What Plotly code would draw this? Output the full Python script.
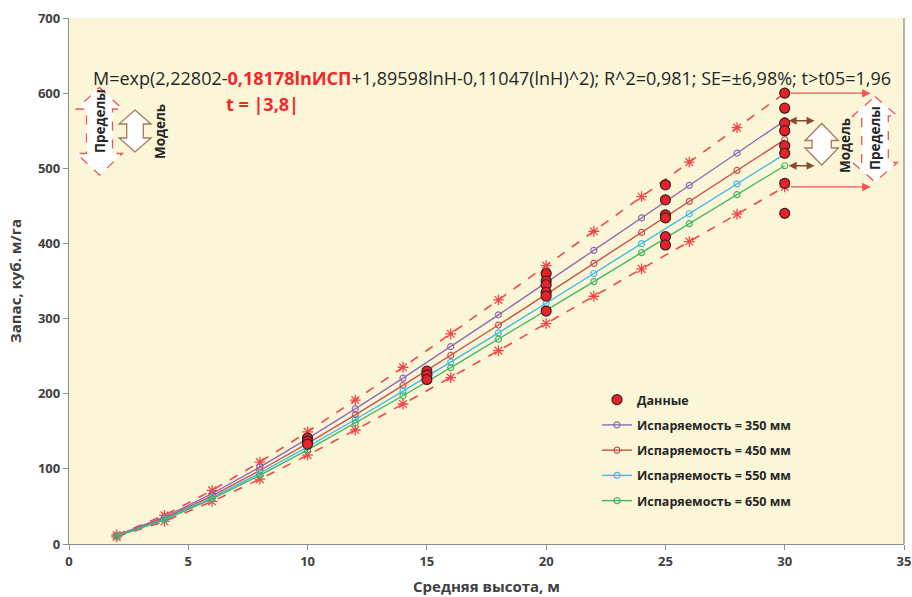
import plotly.graph_objects as go

# ---------------- data ----------------
heights = [2, 4, 6, 8, 10, 12, 14, 16, 18, 20, 22, 24, 26, 28, 30]

model_350 = [11.3, 35.9, 67.1, 102.3, 140.2, 179.9, 220.8, 262.6, 305.0, 347.8, 390.8, 434.0, 477.2, 520.3, 563.3]
model_450 = [10.8, 34.3, 64.1, 97.8, 134.0, 171.9, 211.0, 250.9, 291.4, 332.3, 373.4, 414.6, 455.9, 497.1, 538.2]
model_550 = [10.4, 33.0, 61.8, 94.3, 129.2, 165.7, 203.4, 241.9, 281.0, 320.4, 360.0, 399.7, 439.5, 479.3, 518.9]
model_650 = [10.1, 32.0, 59.9, 91.4, 125.3, 160.8, 197.3, 234.7, 272.6, 310.8, 349.2, 387.8, 426.4, 464.9, 503.4]

limit_upper = [12.0, 38.2, 71.4, 109.0, 149.3, 191.6, 235.2, 279.7, 324.8, 370.4, 416.2, 462.2, 508.2, 554.1, 599.9]
limit_lower = [9.5, 30.2, 56.6, 86.3, 118.3, 151.7, 186.3, 221.5, 257.3, 293.4, 329.7, 366.1, 402.5, 438.9, 475.2]

data_h = [10, 10, 10, 15, 15, 15, 20, 20, 20, 20, 20, 20,
          25, 25, 25, 25, 25, 25, 30, 30, 30, 30, 30, 30, 30, 30]
data_m = [141, 137, 133, 230, 225, 219, 360, 350, 345, 335, 330, 310,
          478, 458, 438, 434, 409, 398, 600, 580, 560, 550, 530, 520, 480, 440]

series_names = ["Испаряемость = 350 мм", "Испаряемость = 450 мм",
                "Испаряемость = 550 мм", "Испаряемость = 650 мм"]
series_vals = [model_350, model_450, model_550, model_650]
series_colors = ["#8F6CB8", "#C9504B", "#45B9E6", "#45B561"]

X_MAX, Y_MAX = 35, 700

# ---------------- figure ----------------
fig = go.Figure()

lim_color = "#F04848"
for vals in (limit_upper, limit_lower):
    fig.add_trace(go.Scatter(
        x=heights, y=vals, mode="lines+markers", showlegend=False,
        line=dict(color=lim_color, width=1.6, dash="dash"),
        marker=dict(symbol="asterisk-open", size=9, color=lim_color,
                    line=dict(color=lim_color, width=1.3)),
        hoverinfo="skip"))

for name, vals, col in zip(series_names, series_vals, series_colors):
    fig.add_trace(go.Scatter(
        x=heights, y=vals, mode="lines+markers", name=name,
        legendgroup=name,
        line=dict(color=col, width=1.4),
        marker=dict(symbol="circle-open", size=6, color=col,
                    line=dict(color=col, width=1.2))))

fig.add_trace(go.Scatter(
    x=data_h, y=data_m, mode="markers", name="Данные", legendgroup="d",
    legendrank=1,
    marker=dict(symbol="circle", size=10, color="#E8222B",
                line=dict(color="#3A1E1E", width=1.2))))

# ---------------- decorative arrows ----------------
L, R, T, B = 69, 904, 18, 544


def px(xp):
    return (xp - L) / (R - L)


def py(yp):
    return (B - yp) / (B - T)


def dbl_arrow(cx, y0, y1, hw, sw, hh):
    pts = [(cx, y0), (cx + hw, y0 + hh), (cx + sw, y0 + hh), (cx + sw, y1 - hh),
           (cx + hw, y1 - hh), (cx, y1), (cx - hw, y1 - hh), (cx - sw, y1 - hh),
           (cx - sw, y0 + hh), (cx - hw, y0 + hh)]
    return "M " + " L ".join(f"{px(a):.5f},{py(b):.5f}" for a, b in pts) + " Z"


shapes = []
red_dash = dict(color="#F05555", width=1.3, dash="dash")
brown = dict(color="#A9775A", width=1.3)
# left side
shapes.append(dict(type="path", xref="paper", yref="paper",
                   path=dbl_arrow(99.5, 87.5, 175, 23, 13, 21.5),
                   fillcolor="white", line=red_dash))
shapes.append(dict(type="path", xref="paper", yref="paper",
                   path=dbl_arrow(135, 110, 152, 16, 8.3, 14),
                   fillcolor="white", line=brown))
# right side
shapes.append(dict(type="path", xref="paper", yref="paper",
                   path=dbl_arrow(821.7, 123.5, 165, 16.7, 9.7, 17),
                   fillcolor="white", line=brown))
shapes.append(dict(type="path", xref="paper", yref="paper",
                   path=dbl_arrow(875, 96.5, 182, 22.3, 13.3, 19.5),
                   fillcolor="white", line=red_dash))
shapes.append(dict(type="line", xref="paper", yref="paper", x0=1, x1=1, y0=0, y1=1,
                   line=dict(color="#8C8C8C", width=1.3)))
fig.update_layout(shapes=shapes)

ann = []
# dashed red arrows from limits at H=30
for v in (limit_upper[-1], limit_lower[-1]):
    ann.append(dict(x=33.6, y=v, ax=heights[-1] + 0.2, ay=v, xref="x", yref="y",
                    axref="x", ayref="y", text="", showarrow=True,
                    arrowhead=2, arrowsize=1.3, arrowwidth=1.3,
                    arrowcolor="#F05555"))
# brown double arrows at model extremes
for v in (model_350[-1], model_650[-1]):
    ann.append(dict(x=31.25, y=v, ax=heights[-1] + 0.1, ay=v, xref="x", yref="y",
                    axref="x", ayref="y", text="", showarrow=True,
                    arrowhead=2, startarrowhead=2, arrowside="end+start",
                    arrowsize=1, arrowwidth=1.6, arrowcolor="#8B4A2B"))

txt_font = dict(family="Open Sans, Noto Sans, sans-serif", size=13.5, color="#262626")
for xp_, yp_, t in [(100, 121, "Пределы"), (160, 132, "Модель"),
                    (845, 146, "Модель"), (875, 138, "Пределы")]:
    ann.append(dict(x=px(xp_), y=py(yp_), xref="paper", yref="paper",
                    xanchor="center", yanchor="middle",
                    text=f"<b>{t}</b>", showarrow=False, textangle=-90,
                    font=txt_font))

formula = ("M=exp(2,22802-<span style='color:#F0282D'><b>0,18178lnИСП</b></span>"
           "+1,89598lnH-0,11047(lnH)^2); R^2=0,981; SE=±6,98%; t>t05=1,96")
ann.append(dict(x=px(492), y=py(78), xref="paper", yref="paper", text=formula,
                xanchor="center", yanchor="middle", showarrow=False,
                font=dict(family="Open Sans, sans-serif", size=18, color="#262626")))
ann.append(dict(x=px(262), y=py(104), xref="paper", yref="paper",
                xanchor="center", yanchor="middle",
                text="<b>t = |3,8|</b>", showarrow=False,
                font=dict(family="Open Sans, sans-serif", size=18, color="#F0282D")))
fig.update_layout(annotations=ann)

axis_font = dict(family="Open Sans, sans-serif", size=13, color="#404040")
fig.update_xaxes(range=[0, X_MAX], dtick=5, showline=True, linecolor="#8C8C8C",
                 linewidth=1.3, ticks="outside", ticklen=5, tickcolor="#8C8C8C",
                 showgrid=False, zeroline=False, automargin=False,
                 tickfont=dict(axis_font, weight="bold"),
                 title=dict(text="<b>Средняя высота, м</b>", standoff=12,
                            font=dict(family="Open Sans, sans-serif", size=15, color="#404040")))
fig.update_yaxes(range=[0, Y_MAX], dtick=100, showline=True, linecolor="#8C8C8C",
                 linewidth=1.3, ticks="outside", ticklen=5, tickcolor="#8C8C8C",
                 mirror=False, showgrid=False, zeroline=False, automargin=False,
                 tickfont=dict(axis_font, weight="bold"),
                 title=dict(text="<b>Запас, куб. м/га</b>", standoff=12,
                            font=dict(family="Open Sans, sans-serif", size=15, color="#404040")))

fig.update_layout(
    width=912, height=597,
    margin=dict(l=L, r=912 - R, t=T, b=597 - B),
    paper_bgcolor="white", plot_bgcolor="#FBF6D8",
    showlegend=True,
    legend=dict(x=px(597), y=py(385), xanchor="left", yanchor="top",
                bgcolor="rgba(0,0,0,0)", tracegroupgap=6,
                font=dict(family="Open Sans, sans-serif", size=12.5, color="#262626",
                          weight="bold"),
                itemwidth=30),
)

fig.write_html("out.html", config={"displayModeBar": False},
               post_script="document.body.style.margin='0';document.body.style.overflow='hidden';")
